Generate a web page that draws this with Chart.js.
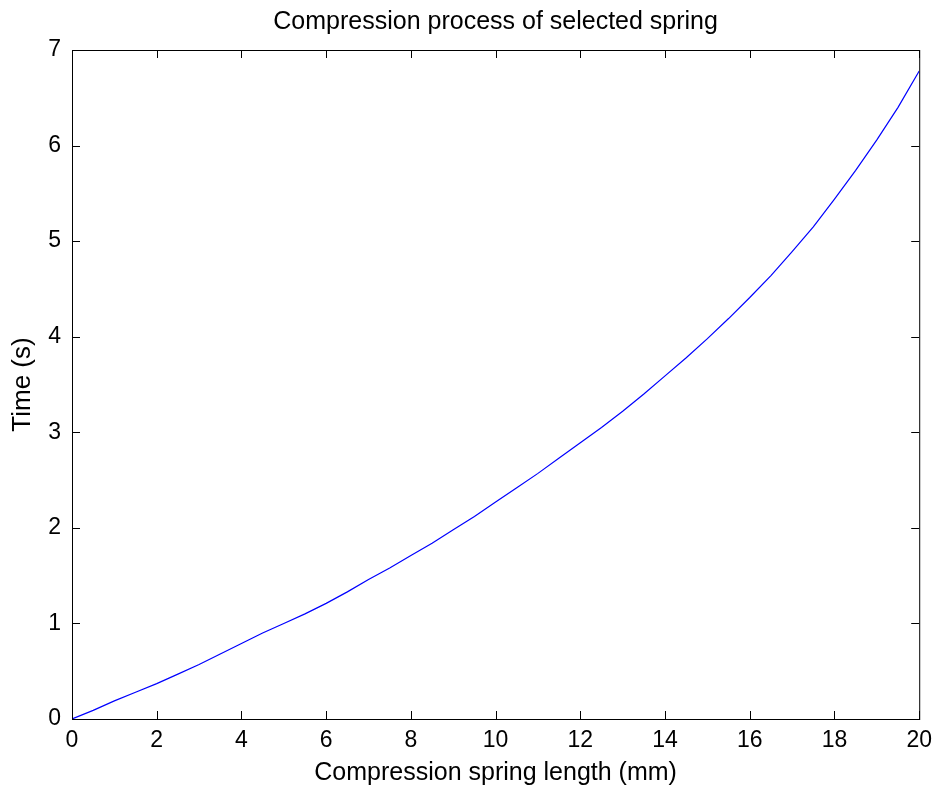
<!DOCTYPE html>
<html lang="en">

<head>
  <meta charset="UTF-8">
  <title>Compression process of selected spring</title>
  <style>
    html, body {
      margin: 0;
      padding: 0;
      background: #fff;
    }

    div {
      width: 940px;
      height: 790px;
    }
  </style>
</head>

<body>
  <div>
    <canvas id="myChart" width="940" height="790"></canvas>
  </div>

  <script src="https://cdn.jsdelivr.net/npm/chart.js"></script>

  <script>
    /* data */
    const lengthMm = [0, 0.5, 1, 1.5, 2, 2.5, 3, 3.5, 4, 4.5, 5, 5.5, 6, 6.5, 7, 7.5, 8, 8.5, 9, 9.5,
      10, 10.5, 11, 11.5, 12, 12.5, 13, 13.5, 14, 14.5, 15, 15.5, 16, 16.5, 17, 17.5, 18, 18.5, 19, 19.5, 20]
    const timeS = [0, 0.09, 0.19, 0.28, 0.37, 0.47, 0.57, 0.68, 0.79, 0.90, 1.00, 1.10, 1.21, 1.33, 1.46, 1.58,
      1.71, 1.84, 1.98, 2.12, 2.27, 2.42, 2.57, 2.73, 2.89, 3.05, 3.22, 3.40, 3.59, 3.78, 3.98, 4.19, 4.41,
      4.64, 4.89, 5.15, 5.44, 5.74, 6.06, 6.40, 6.78]
    const xTicks = [0, 2, 4, 6, 8, 10, 12, 14, 16, 18, 20]
    const yTicks = [0, 1, 2, 3, 4, 5, 6, 7]

    const FONT = "'Liberation Sans', Arial, sans-serif"
    const titleText = 'Compression process of selected spring'

    // matlab-like box, inward ticks and title over the plot area
    const matlabBox = {
      id: 'matlabBox',
      afterDraw(chart) {
        const { ctx, chartArea: a, scales: { x, y } } = chart
        const len = 8
        ctx.save()
        ctx.strokeStyle = '#000'
        ctx.lineWidth = 1
        ctx.strokeRect(a.left + 0.5, a.top + 0.5, a.right - a.left, a.bottom - a.top)
        ctx.beginPath()
        xTicks.forEach(v => {
          const px = Math.round(x.getPixelForValue(v)) + 0.5
          ctx.moveTo(px, a.bottom); ctx.lineTo(px, a.bottom - len)
          ctx.moveTo(px, a.top); ctx.lineTo(px, a.top + len)
        })
        yTicks.forEach(v => {
          const py = Math.round(y.getPixelForValue(v)) + 0.5
          ctx.moveTo(a.left, py); ctx.lineTo(a.left + len, py)
          ctx.moveTo(a.right, py); ctx.lineTo(a.right - len, py)
        })
        ctx.stroke()
        ctx.fillStyle = '#000'
        ctx.font = '25px ' + FONT
        ctx.textAlign = 'center'
        ctx.textBaseline = 'middle'
        ctx.fillText(titleText, (a.left + a.right) / 2, 22)
        ctx.restore()
      }
    }

    const ctx = document.getElementById('myChart')
    new Chart(ctx, {
      type: 'line',
      data: {
        datasets: [{
          data: lengthMm.map((v, i) => ({ x: v, y: timeS[i] })),
          borderColor: '#0000ff',
          borderWidth: 1.2,
          pointRadius: 0,
          tension: 0,
          fill: false
        }]
      },
      options: {
        responsive: false,
        animation: false,
        devicePixelRatio: 1,
        layout: { padding: { top: 50, right: 19 } },
        plugins: {
          legend: { display: false },
          tooltip: { enabled: false },
          title: { display: false }
        },
        scales: {
          x: {
            type: 'linear',
            min: 0,
            max: 20,
            afterFit(s) { s.height = 71 },
            afterBuildTicks(s) { s.ticks = xTicks.map(v => ({ value: v })) },
            grid: { display: false, drawTicks: false },
            border: { display: false },
            ticks: { color: '#000', padding: 8, font: { family: FONT, size: 23 }, maxRotation: 0, autoSkip: false },
            title: {
              display: true,
              text: 'Compression spring length (mm)',
              color: '#000',
              font: { family: FONT, size: 25 },
              padding: { top: 0, bottom: 2 }
            }
          },
          y: {
            type: 'linear',
            min: 0,
            max: 7,
            afterFit(s) { s.width = 72 },
            afterBuildTicks(s) { s.ticks = yTicks.map(v => ({ value: v })) },
            grid: { display: false, drawTicks: false },
            border: { display: false },
            ticks: { color: '#000', padding: 11, font: { family: FONT, size: 23 }, autoSkip: false },
            title: {
              display: true,
              text: 'Time (s)',
              color: '#000',
              font: { family: FONT, size: 26 },
              padding: { top: 7, bottom: 0 }
            }
          }
        }
      },
      plugins: [matlabBox]
    })
  </script>
</body>

</html>
